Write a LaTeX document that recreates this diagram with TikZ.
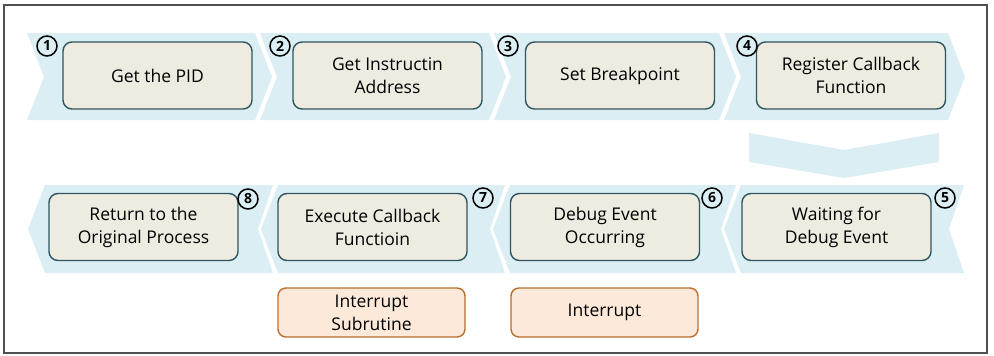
\documentclass[tikz,border=0pt]{standalone}
\usepackage{fontspec}
\setmainfont{Open Sans}
\begin{document}
\begin{tikzpicture}[x=1pt,y=-1pt,
  chev/.style={fill=chevfill,draw=none},
  stepbox/.style={draw=boxline,fill=boxfill,line width=1.4pt,rounded corners=9pt,
    minimum width=189pt,minimum height=67pt,align=center,inner sep=2pt,
    font=\fontsize{17.5}{23}\selectfont},
  intbox/.style={draw=intline,fill=intfill,line width=1.4pt,rounded corners=8pt,
    minimum width=187pt,minimum height=49pt,align=center,inner sep=2pt,
    font=\fontsize{17.5}{23}\selectfont},
  num/.style={circle,draw=black,line width=1.5pt,inner sep=0pt,minimum size=20pt,
    font=\fontsize{14}{14}\selectfont\bfseries}]
\definecolor{chevfill}{HTML}{DAEEF3}
\definecolor{boxfill}{HTML}{EEECE1}
\definecolor{boxline}{HTML}{2F5560}
\definecolor{intfill}{HTML}{FDE9D9}
\definecolor{intline}{HTML}{BE6E2C}
\definecolor{frame}{HTML}{505050}
\useasboundingbox (0,0) rectangle (994,356);
\fill[white] (0,0) rectangle (994,356);
\draw[frame,line width=1.6pt] (4,5) rectangle (987,353);
% top row chevrons (pointing right)
\foreach \L/\R in {27/255,260/489,494/719,724/948}{
  \fill[chev] (\L,33) -- (\R,33) -- (\R+17,77) -- (\R,120) -- (\L,120) -- (\L+17,77) -- cycle;
}
% down chevron
\fill[chev] (749,133) -- (844,150) -- (939,133) -- (939,162) -- (844,178) -- (749,162) -- cycle;
% bottom row chevrons (pointing left)
\foreach \L/\R in {45/273,278/505,510/736,741/964}{
  \fill[chev] (\L,185) -- (\R,185) -- (\R-15,229) -- (\R,273) -- (\L,273) -- (\L-17,229) -- cycle;
}
% top boxes
\node[stepbox] (b1) at (157.5,75.5) {Get the PID};
\node[stepbox] (b2) at (387.5,75.5) {Get Instructin\\Address};
\node[stepbox] (b3) at (620,75.5) {Set Breakpoint};
\node[stepbox] (b4) at (851,75.5) {Register Callback\\Function};
% bottom boxes
\node[stepbox] (b8) at (143.5,227) {Return to the\\Original Process};
\node[stepbox] (b7) at (372.5,227) {Execute Callback\\Functioin};
\node[stepbox] (b6) at (605,227) {Debug Event\\Occurring};
\node[stepbox] (b5) at (836.5,227) {Waiting for\\Debug Event};
% interrupt boxes
\node[intbox] (is) at (371.5,312.5) {Interrupt\\Subrutine};
\node[intbox] (ir) at (604.5,312.5) {Interrupt};
% numbers
\node[num] (n1) at (47,46) {1};
\node[num] (n2) at (280,46) {2};
\node[num] (n3) at (508,46) {3};
\node[num] (n4) at (747,46) {4};
\node[num] (n5) at (945,198) {5};
\node[num] (n6) at (712,198) {6};
\node[num] (n7) at (483,198) {7};
\node[num] (n8) at (248,199) {8};
\end{tikzpicture}
\end{document}
